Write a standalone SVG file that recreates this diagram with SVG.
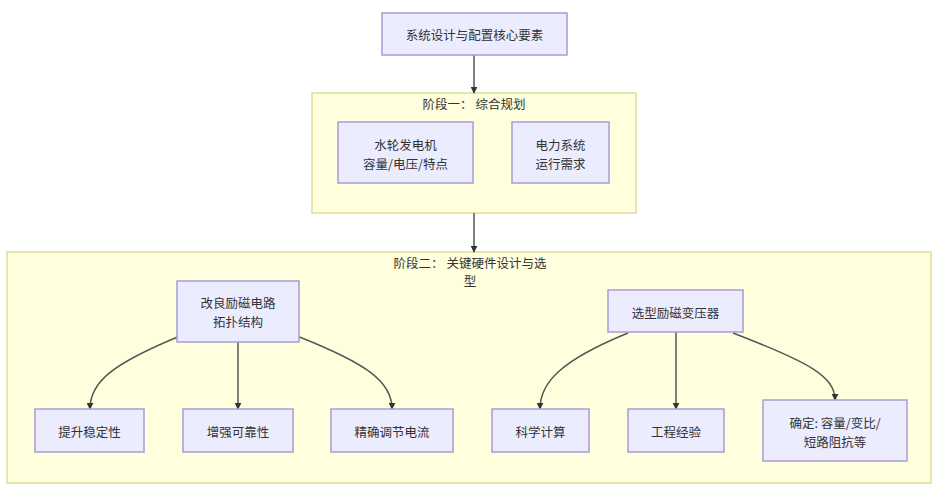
<svg xmlns="http://www.w3.org/2000/svg" width="936" height="489" viewBox="0 0 936 489">
<defs>
<marker id="arr" viewBox="0 0 10 10" refX="9" refY="5" markerWidth="7" markerHeight="7" markerUnits="userSpaceOnUse" orient="auto">
<path d="M0,0 L10,5 L0,10 z" fill="#333"/>
</marker>
<style>
.cluster{fill:#ffffde;stroke:#dede9a;stroke-width:1.5}
.node rect{fill:#ececff;stroke:#a99bd6;stroke-width:1.5}
text{font-family:"Noto Sans CJK SC","Liberation Sans",sans-serif;font-size:12.5px;fill:#333;text-anchor:middle;dominant-baseline:central}
.edge{fill:none;stroke:#555;stroke-width:1.5;marker-end:url(#arr)}
</style>
</defs>
<rect width="936" height="489" fill="#ffffff"/>
<g id="phase1">
<rect class="cluster" x="312" y="93" width="324" height="120"/>
<text x="474" y="103">阶段一： 综合规划</text>
</g>
<g id="phase2">
<rect class="cluster" x="7" y="252" width="924" height="231"/>
<text x="470" y="262">阶段二： 关键硬件设计与选</text>
<text x="470" y="280">型</text>
</g>
<g id="connectors">
<path class="edge" d="M474,55 L474,93"/>
<path class="edge" d="M474,213 L474,252"/>
<path class="edge" d="M180,336 C112,364 90,382 90,409"/>
<path class="edge" d="M238,342 L238,409"/>
<path class="edge" d="M297,336 C368,364 392,382 392,409"/>
<path class="edge" d="M628,333 C562,360 540,382 540,409"/>
<path class="edge" d="M676,332 L676,409"/>
<path class="edge" d="M733,333 C808,362 835,376 835,400"/>
</g>
<g id="n_top" class="node">
<rect x="382" y="13" width="185" height="42"/>
<text x="474.5" y="34">系统设计与配置核心要素</text>
</g>
<g id="n_gen" class="node">
<rect x="338" y="122" width="135" height="61"/>
<text x="405.5" y="144">水轮发电机</text>
<text x="405.5" y="163">容量/电压/特点</text>
</g>
<g id="n_grid" class="node">
<rect x="512" y="122" width="97" height="61"/>
<text x="560.5" y="144">电力系统</text>
<text x="560.5" y="163">运行需求</text>
</g>
<g id="n_circuit" class="node">
<rect x="177" y="281" width="122" height="61"/>
<text x="238" y="302">改良励磁电路</text>
<text x="238" y="321">拓扑结构</text>
</g>
<g id="n_stab" class="node">
<rect x="35" y="409" width="109" height="43"/>
<text x="89.5" y="431">提升稳定性</text>
</g>
<g id="n_rel" class="node">
<rect x="183" y="409" width="110" height="43"/>
<text x="238" y="431">增强可靠性</text>
</g>
<g id="n_cur" class="node">
<rect x="331" y="409" width="122" height="43"/>
<text x="392" y="431">精确调节电流</text>
</g>
<g id="n_trans" class="node">
<rect x="608" y="290" width="135" height="42"/>
<text x="675.5" y="312">选型励磁变压器</text>
</g>
<g id="n_calc" class="node">
<rect x="492" y="409" width="97" height="43"/>
<text x="540.5" y="431">科学计算</text>
</g>
<g id="n_exp" class="node">
<rect x="628" y="409" width="96" height="43"/>
<text x="676" y="431">工程经验</text>
</g>
<g id="n_det" class="node">
<rect x="763" y="400" width="144" height="61"/>
<text x="835" y="422">确定: 容量/变比/</text>
<text x="835" y="441">短路阻抗等</text>
</g>
</svg>
